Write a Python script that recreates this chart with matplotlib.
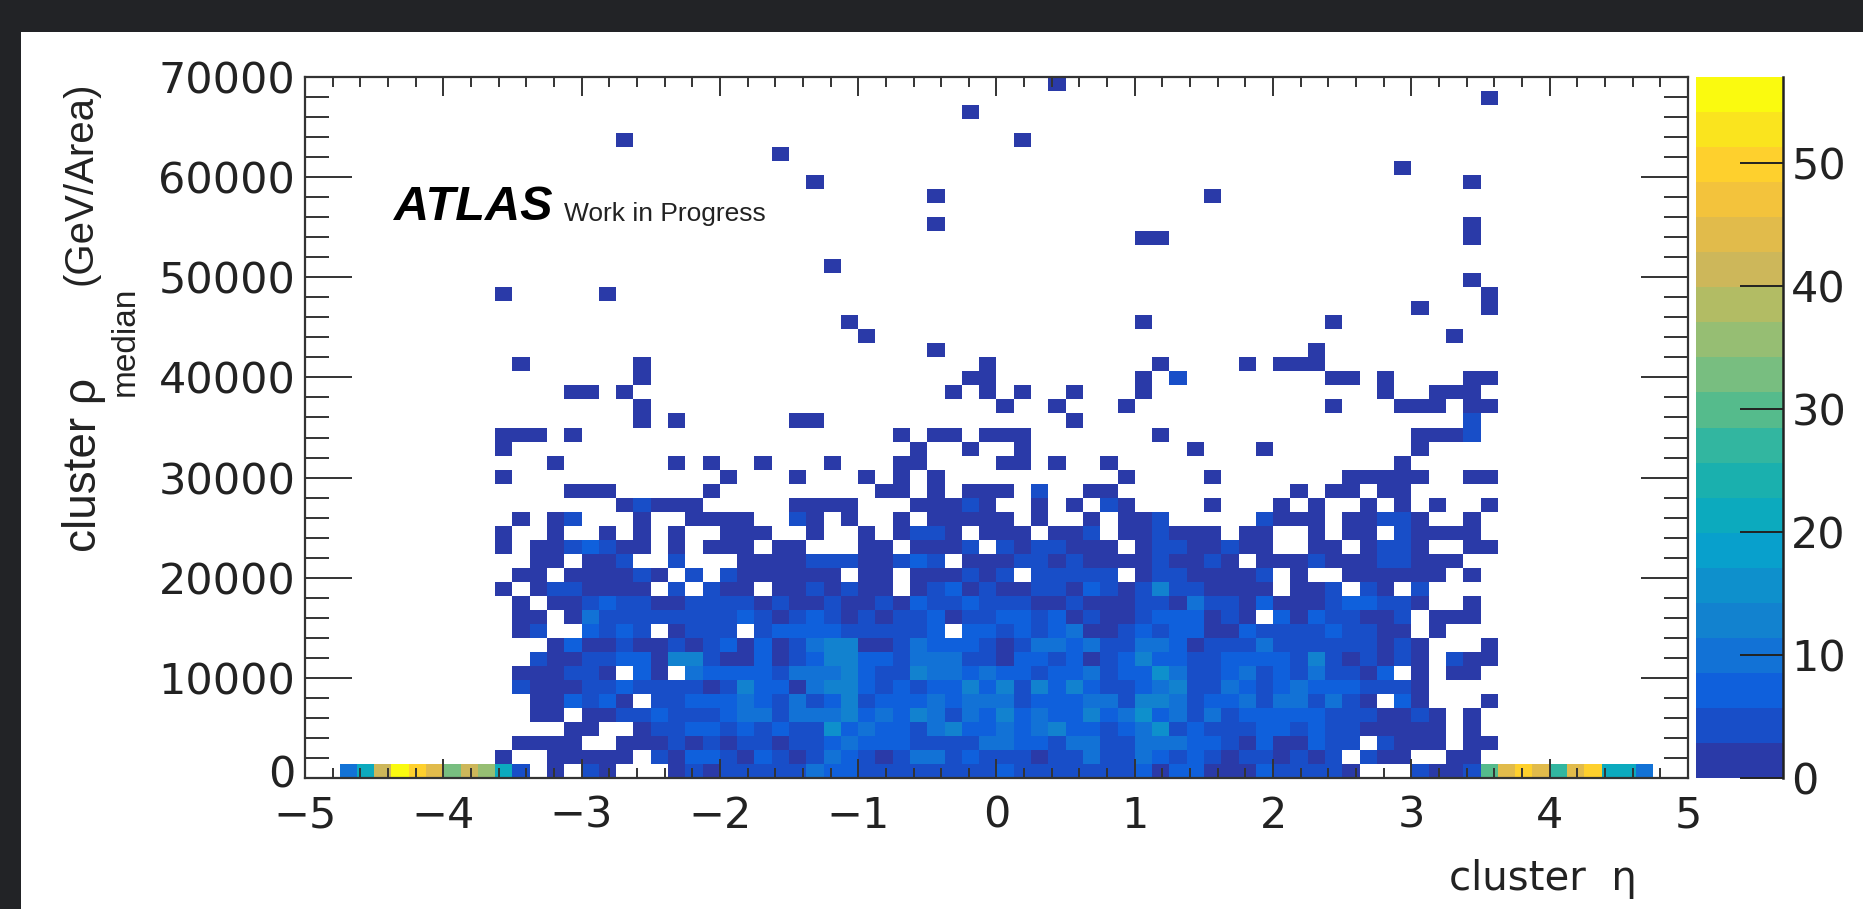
"""
Cluster rho median vs cluster eta, 2D occupancy map redrawn from the picture.
"""

import numpy as np
import matplotlib
matplotlib.use("Agg")
import matplotlib.pyplot as plt
from matplotlib.colors import ListedColormap, BoundaryNorm
from matplotlib.patches import Rectangle
from matplotlib.transforms import ScaledTranslation

# Bins
N_ETA = 80
N_RHO = 50
ETA_MIN, ETA_MAX = -5, 5
RHO_MIN, RHO_MAX = 0, 70000
Z_MAX = 57

X_TICKS = [-5, -4, -3, -2, -1, 0, 1, 2, 3, 4, 5]
X_LABELS = ["\u22125", "\u22124", "\u22123", "\u22122", "\u22121", "0", "1", "2", "3", "4", "5"]
Y_TICKS = [0, 10000, 20000, 30000, 40000, 50000, 60000, 70000]
Y_LABELS = ["0", "10000", "20000", "30000", "40000", "50000", "60000", "70000"]
Z_TICKS = [0, 10, 20, 30, 40, 50]

# 20 palette bands, bottom to top
PALETTE = ["#2a3aa8", "#184ec8", "#0f60dc", "#1272d6", "#1282cf", "#0e90cc", "#08a0cc", "#0caabe",
           "#1ab0ae", "#32b6a0", "#55bb8c", "#78be80", "#96be73", "#b2bc64", "#cdb75a", "#e1bb4b",
           "#f3c33c", "#fed02d", "#fae41e", "#fafa0f"]

# Bottom row (rho bin 0), counts per eta bin
ROW_0 = [0, 0, 10, 20, 42, 56, 50, 43, 33, 42, 36, 20, 5, 0, 1, 0, 4, 1, 0, 0,
         0, 1, 4, 1, 4, 4, 4, 4, 4, 10, 7, 7, 4, 4, 4, 4, 4, 4, 4, 4,
         7, 4, 4, 4, 4, 4, 4, 4, 7, 1, 7, 7, 1, 1, 1, 7, 4, 4, 4, 4,
         1, 0, 0, 0, 4, 1, 1, 4, 30, 43, 50, 45, 26, 43, 49, 20, 20, 11, 0, 0]

# Rho bins 1-21, eta bins 10-69 in blocks of ten, one base-36 digit per count
DENSE_ROWS = [
    ".1..11111. 4177417414 a7414aa474 44144a44a7 4741441414 .411..11..",
    "..1111..11 1414144144 7a7774444a a774aa44aa a774171174 4.4111.11.",
    ".....11..1 4477474744 g7a774ad77 a7ad7747ag 4744477474 411111.1..",
    "...11.1144 74447aa4aa ad7a7da4a7 d7a77d7ag7 a4a4777774 441141.1..",
    "...117471. 44777a74a4 7d4777a7aa a4777aa4dd a477a4aa4a 41.71...1.",
    "..41114474 44414d771a dd747477d7 d4d7d7447a d44a747a77 74441.....",
    "..111441.7 1.a77774aa ad744daa7a 77477a477g a447a474a4 417.1.11..",
    "...4114477 1dd4117147 dd774aaa44 17747147d7 74477774d4 14141.411.",
    "....171141 141471714a dd114a7774 14aa7a44aa 71444a4444 44141...1.",
    "..14..7474 .1444.4777 7444447.77 4747a11474 7711744447 4411.1....",
    "..11.1a444 4444474147 4141447144 7747141147 77141.7174 4114.111..",
    "..1.114744 1144441411 4114174474 4411411144 1a44171114 77441..1..",
    ".1.1441111 .4.411.114 1411.14714 114417414d 441111.114 .41.4.....",
    "..11.11114 1.4.411111 1.11.11141 4.44444.14 411114.1.. 111111.1..",
    "...11.114. .4...11114 4411474.11 1441411114 1141.11141 1144111...",
    ".1.1147411 .1.111.11. ..11.1114. 4144111.14 411411..11 .1441..11.",
    ".1..1..1.1 .1..111..1 ..1.1441.1 11.114.114 111.11..1. 11.41111..",
    "..1.14...1 ..1111..41 .1..1.1111 1.1..1.114 .....4111. 11441..1..",
    "........14 111.....11 11...11141 ..1.1.41.. ..1...1.1. .1.1.1..1.",
    ".....111.. ...1...... ...11.1.11 1.4..11... .......1.1 1.11......",
    ".1........ ....1...1. ..1.1.1... .......1.. ..1....... 11111..11.",
]

# Rho bins 22 and up: eta bins holding a single count
SPARSE_ROWS = {
    22: [14, 21, 23, 26, 30, 34, 35, 40, 41, 43, 46, 63],
    23: [11, 35, 38, 41, 51, 55, 64],
    24: [11, 12, 13, 15, 34, 36, 37, 39, 40, 41, 49, 64, 65, 66],
    25: [19, 21, 28, 29, 44],
    26: [19, 40, 43, 47, 59, 63, 64, 65, 67, 68],
    27: [15, 16, 18, 37, 39, 41, 44, 48, 62, 65, 66, 67],
    28: [19, 38, 39, 48, 59, 60, 62, 67, 68],
    29: [19, 12, 39, 49, 54, 56, 57, 58],
    30: [36, 58],
    31: [32, 66],
    32: [31, 48, 59],
    33: [64, 68],
    34: [11, 17, 68],
    35: [67],
    36: [30],
    38: [48, 49, 67],
    39: [36, 67],
    41: [36, 52],
    42: [29, 67],
    43: [63],
    44: [27],
    45: [18, 41],
    47: [38],
    48: [68],
    49: [43],
}

# Cells one band above the lowest in the sparse part: (rho bin, eta bin)
SPARSE_BRIGHT = [(28, 50), (25, 67), (24, 67)]

counts = np.zeros((N_RHO, N_ETA))
counts[0] = ROW_0
for i, row in enumerate(DENSE_ROWS):
    for j, ch in enumerate(row.replace(" ", "")):
        if ch != ".":
            counts[i + 1, 10 + j] = int(ch, 36)
for r, cols in SPARSE_ROWS.items():
    counts[r, cols] = 1
for r, c in SPARSE_BRIGHT:
    counts[r, c] = 4
counts = np.ma.masked_equal(counts, 0)

W, H = 1863, 909
DARK = "#222326"
INK = "#333333"
def box(x0, y0, x1, y1):
    return [x0 / W, 1 - y1 / H, (x1 - x0) / W, (y1 - y0) / H]

fig = plt.figure(figsize=(W / 100, H / 100), dpi=100, facecolor=DARK)
fig.patches.append(Rectangle((21 / W, 0), 1 - 21 / W, 1 - 32 / H, transform=fig.transFigure,
                             facecolor="white", edgecolor="none", zorder=-5))

ax = fig.add_axes(box(305, 77, 1688, 778))
cax = fig.add_axes(box(1696, 77, 1783, 778))

eta_edges = np.linspace(ETA_MIN, ETA_MAX, N_ETA + 1)
rho_edges = np.linspace(RHO_MIN, RHO_MAX, N_RHO + 1)
cmap = ListedColormap(PALETTE)
cmap.set_bad("white")
norm = BoundaryNorm(np.linspace(0, Z_MAX, len(PALETTE) + 1), len(PALETTE))
mesh = ax.pcolormesh(eta_edges, rho_edges, counts, cmap=cmap, norm=norm, linewidth=0, zorder=1)

ax.set_xlim(ETA_MIN, ETA_MAX)
ax.set_ylim(RHO_MIN, RHO_MAX)
ax.set_xticks(X_TICKS)
ax.set_xticklabels(X_LABELS)
ax.set_yticks(Y_TICKS)
ax.set_yticklabels(Y_LABELS)
ax.set_xticks(np.arange(-5, 5.01, 0.2), minor=True)
ax.set_yticks(np.arange(0, 70001, 2000), minor=True)
ax.set_axisbelow(False)
ax.tick_params(axis="x", which="major", direction="in", top=True, length=14, width=1.4, color=INK,
               labelsize=31, pad=12, labelcolor="#222222")
ax.tick_params(axis="x", which="minor", direction="in", top=True, length=7, width=1.4, color=INK)
ax.tick_params(axis="y", which="major", direction="in", right=True, length=34, width=1.4, color=INK,
               labelsize=31, pad=7, labelcolor="#222222")
ax.tick_params(axis="y", which="minor", direction="in", right=True, length=17, width=1.4, color=INK)
for sp in ax.spines.values():
    sp.set_linewidth(1.6)
    sp.set_color(INK)
    sp.set_zorder(5)

# Lift the y "0" a little so it clears the "-5" under it
zero_label = ax.get_yticklabels()[0]
zero_label.set_transform(zero_label.get_transform() + ScaledTranslation(0, 7 / 100, fig.dpi_scale_trans))

cbar = fig.colorbar(mesh, cax=cax, ticks=Z_TICKS, spacing="proportional")
cbar.ax.set_ylim(0, Z_MAX)
cbar.outline.set_visible(False)
cbar.ax.minorticks_off()
cbar.ax.tick_params(axis="y", direction="in", length=31, width=1.4, color="#222222",
                    labelsize=31, pad=6, labelcolor="#222222")
cbar.ax.spines["right"].set_visible(True)
cbar.ax.spines["right"].set_linewidth(1.8)
cbar.ax.spines["right"].set_color("#222222")
cbar.ax.spines["right"].set_zorder(5)
cbar.ax.set_yticklabels([str(t) for t in Z_TICKS])

# Titles placed by hand, the y title has a subscript that sits apart
SANS = ["Liberation Sans", "DejaVu Sans"]
fig.text(84 / W, 1 - 552 / H, "cluster \u03c1", rotation=90, ha="center", va="bottom",
         fontsize=33, family=SANS, color="#222222")
fig.text(125 / W, 1 - 396 / H, "median", rotation=90, ha="center", va="bottom",
         fontsize=24, family=SANS, color="#222222")
fig.text(80 / W, 1 - 285 / H, "(GeV/Area)", rotation=90, ha="center", va="bottom",
         fontsize=29, family=SANS, color="#222222")
fig.text(1637 / W, 1 - 890 / H, "cluster  \u03b7", ha="right", va="baseline",
         fontsize=29, family="DejaVu Sans", color="#222222")

fig.text(394 / W, 1 - 220 / H, "ATLAS", ha="left", va="baseline", fontsize=35,
         family="Liberation Sans", style="italic", weight="bold", color="black")
fig.text(564 / W, 1 - 221 / H, "Work in Progress", ha="left", va="baseline", fontsize=19,
         family="Liberation Sans", color="#222222")

fig.savefig("out.png", dpi=100, facecolor=fig.get_facecolor())
plt.close(fig)
